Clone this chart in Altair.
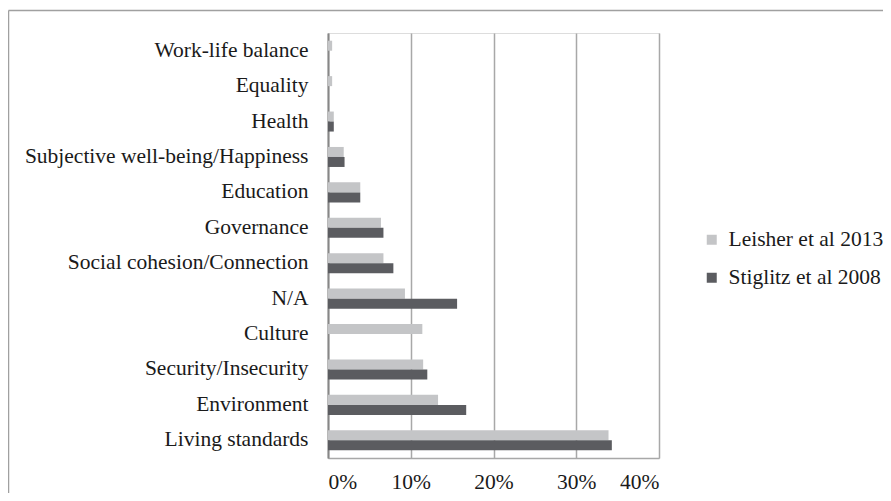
import altair as alt
import pandas as pd

categories = ["Work-life balance", "Equality", "Health", "Subjective well-being/Happiness",
              "Education", "Governance", "Social cohesion/Connection", "N/A", "Culture",
              "Security/Insecurity", "Environment", "Living standards"]
leisher = [0.5, 0.5, 0.7, 1.9, 3.9, 6.4, 6.7, 9.3, 11.4, 11.5, 13.3, 33.9]
stiglitz = [None, None, 0.7, 2.0, 3.9, 6.7, 7.9, 15.6, None, 12.0, 16.7, 34.3]
series = ["Leisher et al 2013", "Stiglitz et al 2008"]
colors = ["#c4c5c7", "#5b5c60"]
ticks = [0, 0.1, 0.2, 0.3, 0.4]

rows = []
for c, a, b in zip(categories, leisher, stiglitz):
    if a is not None:
        rows.append({"category": c, "series": series[0], "value": a / 100})
    if b is not None:
        rows.append({"category": c, "series": series[1], "value": b / 100})
df = pd.DataFrame(rows)

FONT = "Liberation Serif"
FS = 21.5

bars = alt.Chart(df).mark_bar().encode(
    y=alt.Y("category:N", sort=categories,
            scale=alt.Scale(paddingInner=0.435, paddingOuter=0.2175),
            axis=alt.Axis(title=None, ticks=False, labelPadding=20, labelFont=FONT,
                          labelFontSize=FS, labelColor="#1a1a1a", domainColor="#878787",
                          domainWidth=2, labelLimit=400)),
    yOffset=alt.YOffset("series:N", sort=series, scale=alt.Scale(paddingInner=0, paddingOuter=0)),
    x=alt.X("value:Q", scale=alt.Scale(domain=[0, 0.4], nice=False),
            axis=alt.Axis(title=None, values=ticks, format=".0%", ticks=False, labelPadding=30,
                          labelBaseline="alphabetic",
                          labelFont=FONT, labelFontSize=FS, labelColor="#1a1a1a",
                          grid=True, gridColor="#a8a8a8", gridWidth=1.5,
                          domainColor="#a8a8a8", domainWidth=1.5)),
    color=alt.Color("series:N", sort=series,
                    scale=alt.Scale(domain=series, range=colors),
                    legend=alt.Legend(title=None, orient="none", legendX=373, legendY=196,
                                      symbolType="square", symbolSize=100, symbolStrokeWidth=0,
                                      labelFont=FONT, labelFontSize=FS, labelColor="#1a1a1a",
                                      rowPadding=15, padding=0, labelOffset=6, labelLimit=300)),
)

frame_top = alt.Chart(pd.DataFrame({"k": [0]})).mark_rule(color="#a0a0a0", strokeWidth=1.5).encode(
    x=alt.value(-319.5), x2=alt.value(570), y=alt.value(-22.5))
frame_left = alt.Chart(pd.DataFrame({"k": [0]})).mark_rule(color="#a0a0a0", strokeWidth=1.5).encode(
    x=alt.value(-319.5), y=alt.value(-22.5), y2=alt.value(480))

chart = alt.layer(bars, frame_top, frame_left).properties(
    width=331, height=425,
    autosize=alt.AutoSizeParams(type="none"),
    padding={"left": 320, "top": 25, "right": 224, "bottom": 35},
).configure_view(stroke=None).configure(background="white")

chart.save("out.html", embed_options={"renderer": "svg", "actions": False})
